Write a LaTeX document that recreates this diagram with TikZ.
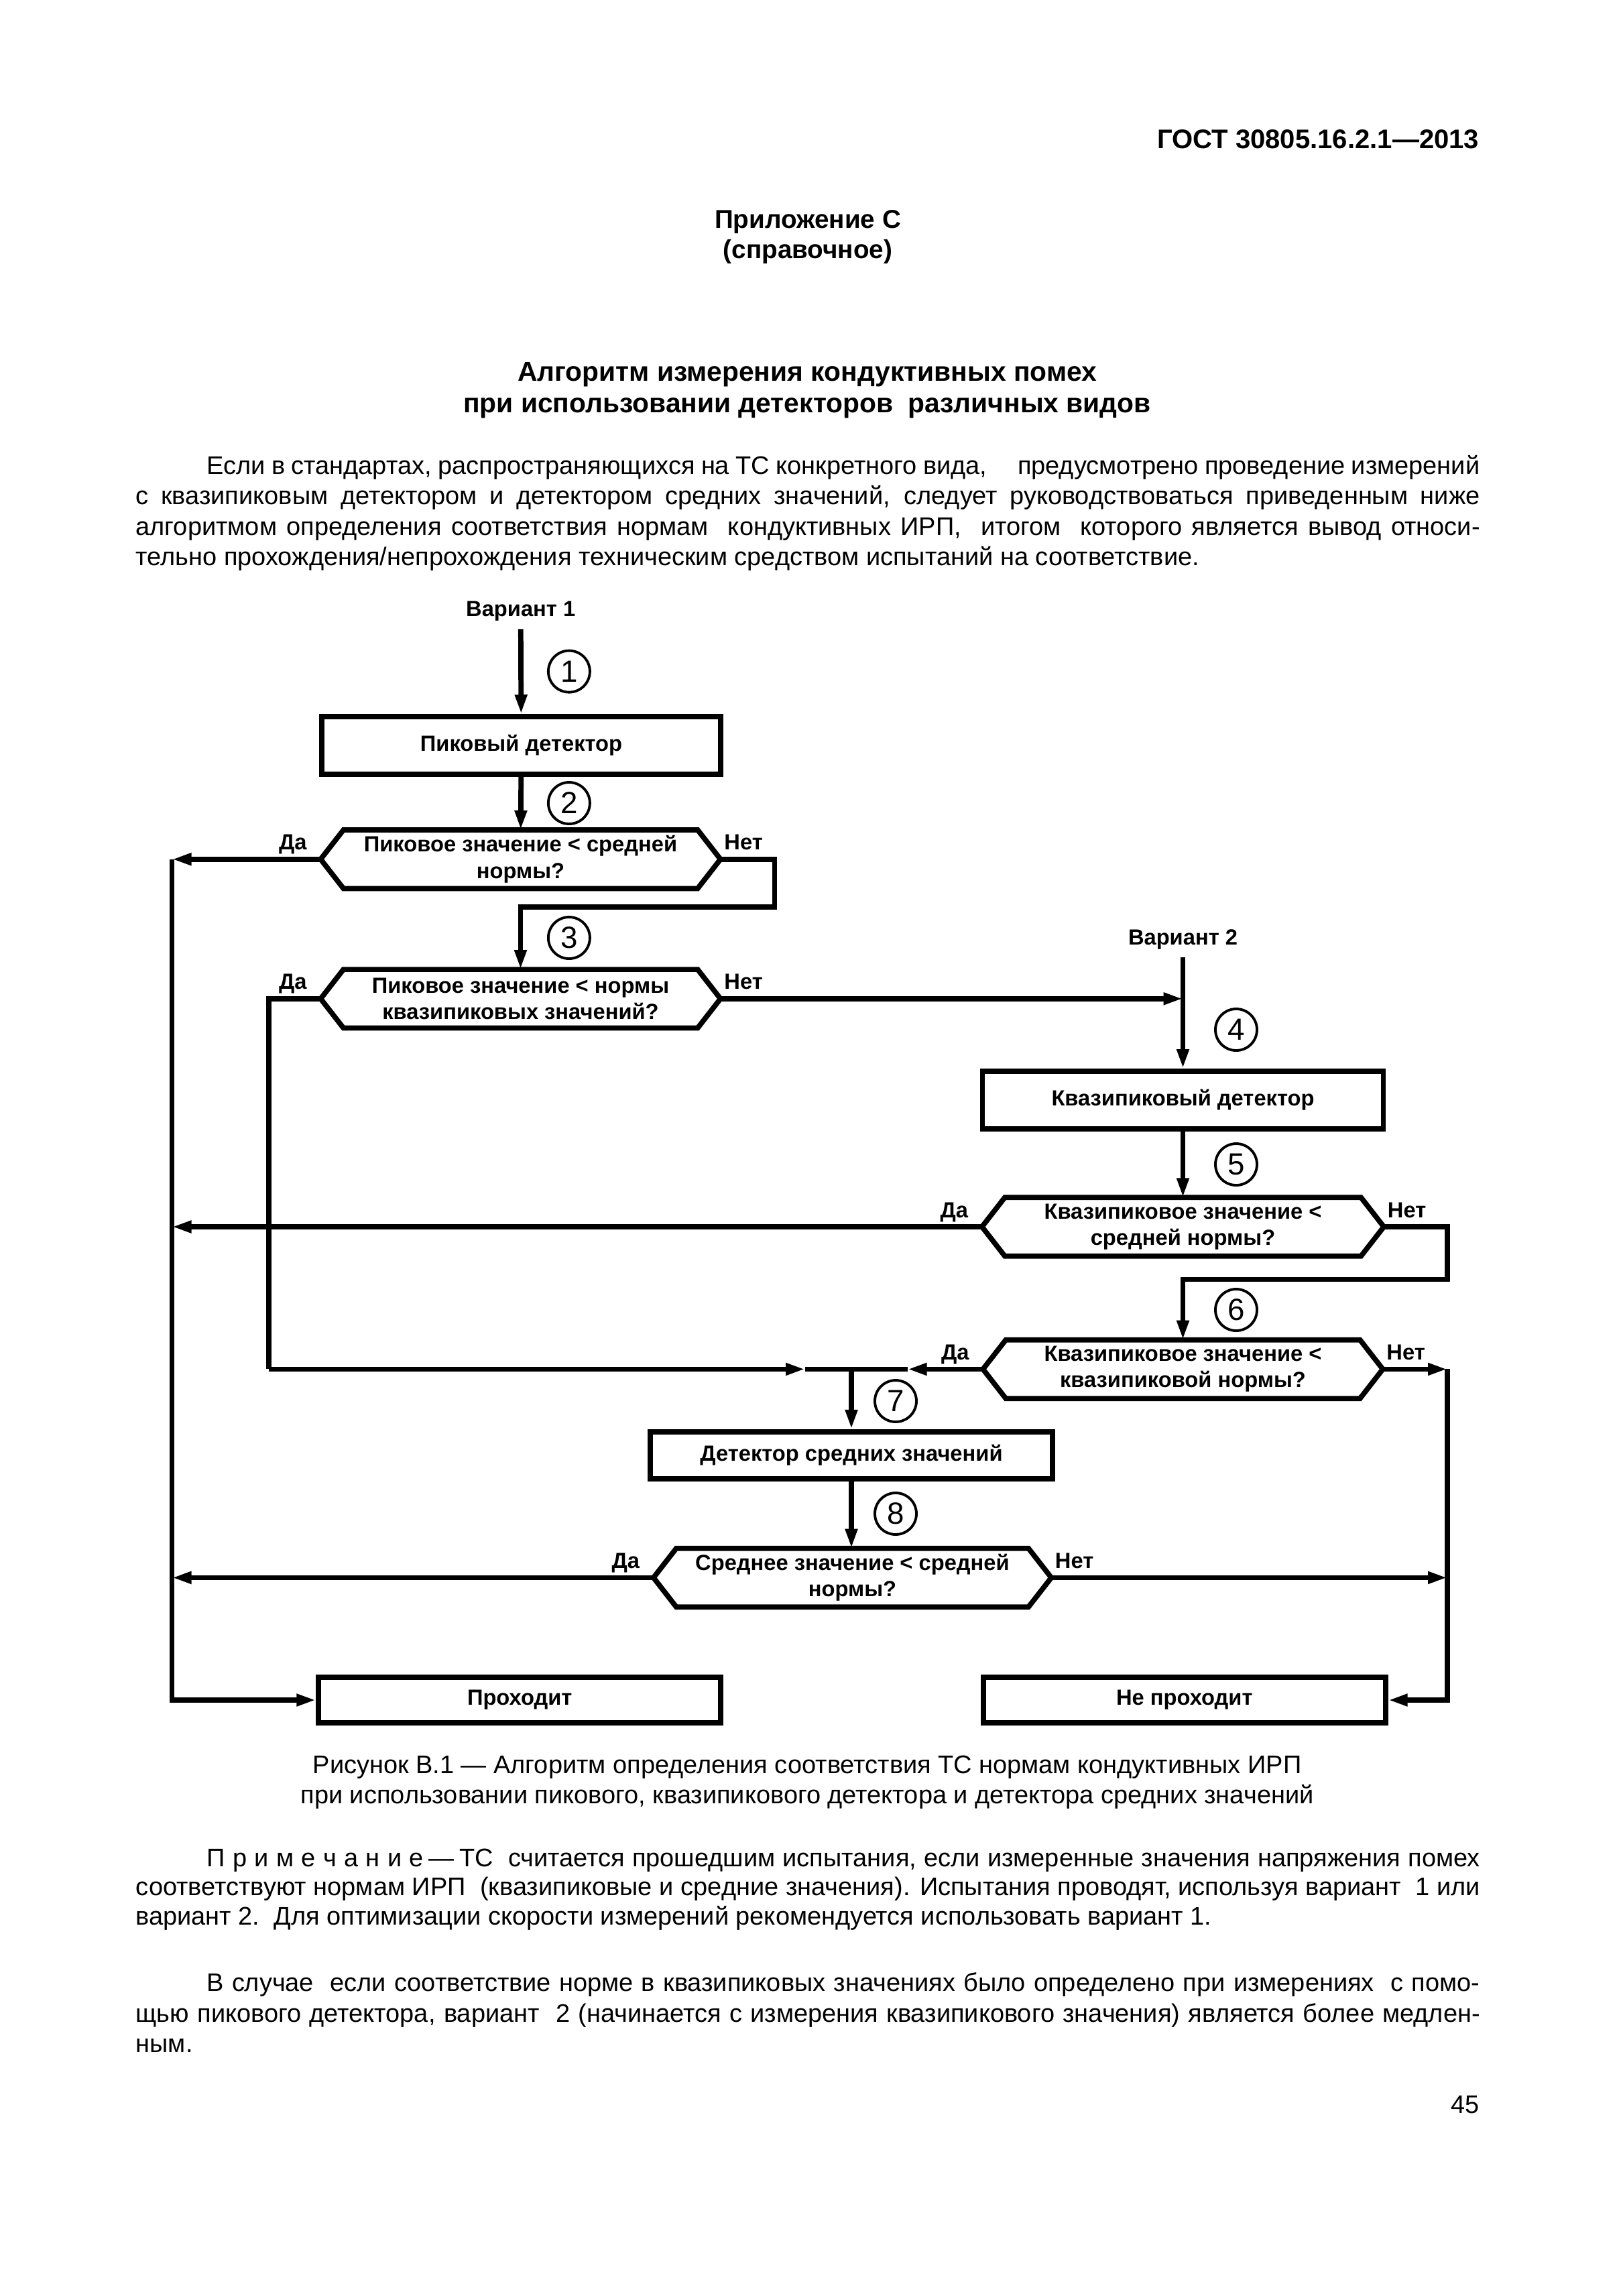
\documentclass[tikz,border=0pt]{standalone}
\usepackage{fontspec}
\setmainfont{Liberation Sans}
\usetikzlibrary{arrows.meta}

\tikzset{
	blk/.style={draw,line width=2.2pt,inner sep=0pt,minimum height=0.86cm,minimum width=5.95cm,font=\bfseries\fontsize{9.3}{11.2}\selectfont},
	qtxt/.style={inner sep=0pt,minimum height=0.86cm,minimum width=5.95cm,align=center,font=\bfseries\fontsize{9.3}{11.2}\selectfont},
	num/.style={draw,circle,line width=1.1pt,inner sep=0pt,minimum size=0.62cm,font=\fontsize{13}{13}\selectfont},
	lbl/.style={inner sep=0pt,font=\bfseries\fontsize{9.3}{11}\selectfont},
	var/.style={font=\bfseries\fontsize{9.3}{11}\selectfont},
	wire/.style={line width=2.2pt},
	flow/.style={line width=2.2pt,-{Triangle[length=2.9mm,width=1.7mm]}},
	hdr/.style={inner sep=0pt,font=\bfseries\fontsize{11}{13}\selectfont},
	txt/.style={inner sep=0pt,anchor=base west,font=\fontsize{10.8}{13}\selectfont},
}
\newcommand{\hexframe}[1]{\draw[wire] (#1.west) -- ([xshift=0.34cm]#1.north west) -- ([xshift=-0.34cm]#1.north east) -- (#1.east) -- ([xshift=-0.34cm]#1.south east) -- ([xshift=0.34cm]#1.south west) -- cycle;}

\begin{document}
\begin{tikzpicture}[x=1cm,y=-1cm]
	\fill[white] (0,0) rectangle (24.21,34.25);
	\useasboundingbox (0,0) rectangle (24.21,34.25);
	% page head
	\node[hdr,anchor=base east,font=\bfseries\fontsize{11.4}{13}\selectfont] (gost) at (22.07,2.213) {ГОСТ 30805.16.2.1—2013};
	\node[hdr,anchor=base] (app) at (12.05,3.40) {Приложение С};
	\node[hdr,anchor=base] (ref) at (12.05,3.85) {(справочное)};
	\node[hdr,anchor=base,font=\bfseries\fontsize{11.6}{13}\selectfont] (ttl1) at (12.04,5.682) {Алгоритм измерения кондуктивных помех};
	\node[hdr,anchor=base,font=\bfseries\fontsize{11.6}{13}\selectfont] (ttl2) at (12.04,6.159) {при использовании детекторов\ \ различных видов};
	\node[txt] (pa1) at (3.077,7.07) {\makebox[18.99cm][s]{Если в стандартах, распространяющихся на ТС конкретного вида,\hspace{1.2em}предусмотрено проведение измерений}};
	\node[txt] (pa2) at (2.02,7.526) {\makebox[20.05cm][s]{с квазипиковым детектором и детектором средних значений, следует руководствоваться приведенным ниже}};
	\node[txt] (pa3) at (2.02,7.98) {\makebox[20.05cm][s]{алгоритмом определения соответствия нормам\ \ кондуктивных ИРП,\ \ итогом\ \ которого является вывод относи-}};
	\node[txt] (pa4) at (2.02,8.435) {тельно прохождения/непрохождения техническим средством испытаний на соответствие.};

	% variant 1
	\node[var] (v1) at (7.767,9.112) {Вариант 1};
	\node[blk] (b1) at (7.775,11.121) {Пиковый детектор};
	\node[qtxt] (h1) at (7.765,12.817) {Пиковое значение < средней\\нормы?};
	\node[qtxt] (h2) at (7.765,14.898) {Пиковое значение < нормы\\квазипиковых значений?};
	\hexframe{h1}
	\hexframe{h2}
	% variant 2
	\node[var] (v2) at (17.645,14.011) {Вариант 2};
	\node[blk,minimum width=5.98cm] (b2) at (17.645,16.409) {Квазипиковый детектор};
	\node[qtxt,minimum width=5.98cm] (h3) at (17.645,18.300) {Квазипиковое значение <\\средней нормы?};
	\node[qtxt,minimum width=5.95cm] (h4) at (17.645,20.424) {Квазипиковое значение <\\квазипиковой нормы?};
	\hexframe{h3}
	\hexframe{h4}
	% average detector
	\node[blk,minimum width=6.0cm,minimum height=0.70cm] (b3) at (12.70,21.708) {Детектор средних значений};
	\node[qtxt,minimum width=5.92cm] (h5) at (12.715,23.534) {Среднее значение < средней\\нормы?};
	\hexframe{h5}
	\node[blk,minimum width=6.0cm,minimum height=0.68cm] (pass) at (7.752,25.36) {Проходит};
	\node[blk,minimum width=6.0cm,minimum height=0.68cm] (fail) at (17.668,25.36) {Не проходит};

	% step numbers
	\node[num] (n1) at (8.489,10.016) {1};
	\node[num] (n2) at (8.489,11.98) {2};
	\node[num] (n3) at (8.489,13.99) {3};
	\node[num] (n4) at (18.44,15.36) {4};
	\node[num] (n5) at (18.44,17.37) {5};
	\node[num] (n6) at (18.44,19.54) {6};
	\node[num] (n7) at (13.36,20.90) {7};
	\node[num] (n8) at (13.36,22.58) {8};

	% yes / no
	\node[lbl,anchor=base east] (y1) at ([xshift=-0.2cm,yshift=0.14cm]h1.west) {Да};
	\node[lbl,anchor=base west] (x1) at ([xshift=0.05cm,yshift=0.14cm]h1.east) {Нет};
	\node[lbl,anchor=base east] (y2) at ([xshift=-0.2cm,yshift=0.14cm]h2.west) {Да};
	\node[lbl,anchor=base west] (x2) at ([xshift=0.05cm,yshift=0.14cm]h2.east) {Нет};
	\node[lbl,anchor=base east] (y3) at ([xshift=-0.2cm,yshift=0.14cm]h3.west) {Да};
	\node[lbl,anchor=base west] (x3) at ([xshift=0.05cm,yshift=0.14cm]h3.east) {Нет};
	\node[lbl,anchor=base east] (y4) at ([xshift=-0.2cm,yshift=0.14cm]h4.west) {Да};
	\node[lbl,anchor=base west] (x4) at ([xshift=0.05cm,yshift=0.14cm]h4.east) {Нет};
	\node[lbl,anchor=base east] (y5) at ([xshift=-0.2cm,yshift=0.14cm]h5.west) {Да};
	\node[lbl,anchor=base west] (x5) at ([xshift=0.05cm,yshift=0.14cm]h5.east) {Нет};

	% corner points
	\coordinate (lt) at (2.565,12.817);
	\coordinate (lb) at (2.565,25.36);
	\coordinate (jog1) at (11.555,13.531);
	\coordinate (jog2) at (21.59,19.086);
	\coordinate (rt) at (21.59,20.424);
	\coordinate (ly) at (4.012,20.424);
	\coordinate (junc) at (b3.north |- h4.west);
	\coordinate (ma) at (12.01,20.424);
	\coordinate (mb) at (13.536,20.424);

	% connectors
	\draw[flow] (v1) -- (b1);
	\draw[flow] (b1) -- (h1);
	\draw[flow] (h1.east) -| (jog1) -| (h2.north);
	\draw[flow] (h1.west) -- (lt);
	\draw[flow] (lt) |- (pass.west);
	\draw[wire] (h2.west) -| (ly);
	\draw[flow] (ly) -- (ma);
	\draw[wire] (ma) -- (junc);
	\draw[flow] (h2.east) -- (h2.east -| v2.south);
	\draw[flow] (v2) -- (b2);
	\draw[flow] (b2) -- (h3);
	\draw[flow] (h3.west) -- (h3.west -| lt);
	\draw[flow] (h3.east) -| (jog2) -| (h4.north);
	\draw[flow] (h4.east) -- (rt);
	\draw[flow] (rt) |- (fail.east);
	\draw[flow] (h4.west) -- (mb);
	\draw[wire] (mb) -- (junc);
	\draw[flow] (junc) -- (b3.north);
	\draw[flow] (b3.south) -- (b3.south |- h5.north);
	\draw[flow] (h5.west) -- (h5.west -| lt);
	\draw[flow] (h5.east) -- (h5.east -| rt);

	% caption and notes
	\node[txt,anchor=base] (cap1) at (12.04,26.454) {Рисунок В.1 — Алгоритм определения соответствия ТС нормам кондуктивных ИРП};
	\node[txt,anchor=base] (cap2) at (12.04,26.905) {при использовании пикового, квазипикового детектора и детектора средних значений};
	\node[txt] (nb1) at (3.077,27.84) {\makebox[18.99cm][s]{П\hspace{0.3em}р\hspace{0.3em}и\hspace{0.3em}м\hspace{0.3em}е\hspace{0.3em}ч\hspace{0.3em}а\hspace{0.3em}н\hspace{0.3em}и\hspace{0.3em}е\hspace{0.2em}—\hspace{0.2em}ТС\ \ считается прошедшим испытания, если измеренные значения напряжения помех}};
	\node[txt] (nb2) at (2.02,28.276) {\makebox[20.05cm][s]{соответствуют нормам ИРП\ \ (квазипиковые и средние значения). Испытания проводят, используя вариант\ \ 1 или}};
	\node[txt] (nb3) at (2.02,28.71) {вариант 2.\ \ Для оптимизации скорости измерений рекомендуется использовать вариант 1.};
	\node[txt] (pb1) at (3.077,29.707) {\makebox[18.99cm][s]{В случае\ \ если соответствие норме в квазипиковых значениях было определено при измерениях\ \ с помо-}};
	\node[txt] (pb2) at (2.02,30.163) {\makebox[20.05cm][s]{щью пикового детектора, вариант\ \ 2 (начинается с измерения квазипикового значения) является более медлен-}};
	\node[txt] (pb3) at (2.02,30.618) {ным.};
	\node[txt,anchor=base east] (page) at (22.07,31.525) {45};
\end{tikzpicture}
\end{document}
